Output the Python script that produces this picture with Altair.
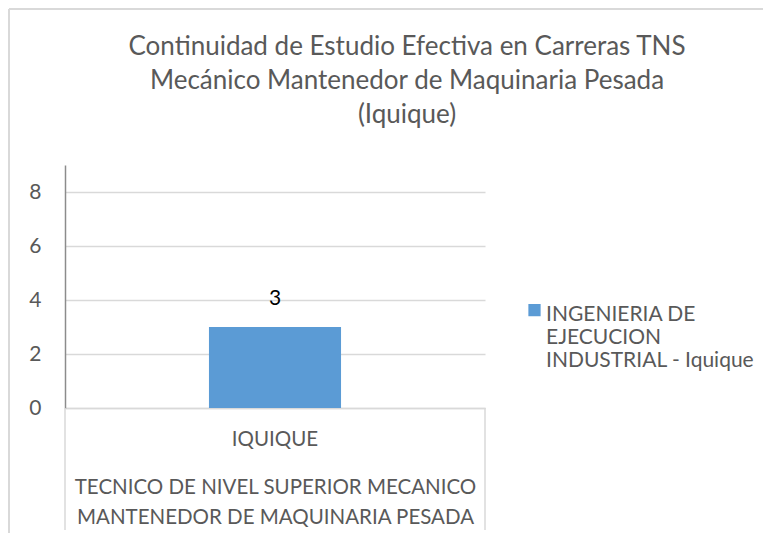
import altair as alt
import pandas as pd

categories = ["IQUIQUE"]
series = ["INGENIERIA  DE EJECUCION INDUSTRIAL - Iquique"]
values = [3]
group_label = ["TECNICO DE NIVEL SUPERIOR MECANICO", "MANTENEDOR DE MAQUINARIA PESADA"]
legend_lines = ["INGENIERIA  DE", "EJECUCION", "INDUSTRIAL - Iquique"]
title_lines = ["Continuidad de Estudio Efectiva en Carreras TNS",
               "Mecánico Mantenedor de Maquinaria Pesada",
               "(Iquique)"]
y_ticks = [0, 2, 4, 6, 8]

df = pd.DataFrame({"cat": categories, "serie": series, "val": values})

FONT = "Lato"
GRAY = "#595959"
W, H = 420, 243

legend_expr = "[" + ", ".join("'" + s + "'" for s in legend_lines) + "]"

x_enc = alt.X("cat:N", scale=alt.Scale(paddingInner=0.5, paddingOuter=0.545),
              axis=alt.Axis(title=group_label, labelAngle=0, labelFontSize=20.5,
                            labelColor=GRAY, labelFont=FONT, labelPadding=21,
                            titleFontSize=20.5, titleFont=FONT, titleColor=GRAY,
                            titleFontWeight="normal", titlePadding=28, titleLineHeight=30,
                            ticks=False, domainColor="#d9d9d9", domainWidth=1.5))
y_enc = alt.Y("val:Q", scale=alt.Scale(domain=[0, 9], nice=False),
              axis=alt.Axis(values=y_ticks, title=None, labelFontSize=21, labelColor=GRAY,
                            labelFont=FONT, labelPadding=24, ticks=False,
                            domainColor="#8c8c8c", domainWidth=1.5,
                            gridColor="#d9d9d9", gridWidth=1.5))

bars = alt.Chart(df).mark_bar(color="#5b9bd5").encode(
    x=x_enc, y=y_enc,
    color=alt.Color("serie:N", scale=alt.Scale(range=["#5b9bd5"]),
                    legend=alt.Legend(title=None, orient="none", legendX=459, legendY=128,
                                      symbolType="M-1,0.08H1V2.08H-1Z", symbolSize=150,
                                      symbolStrokeWidth=0,
                                      labelFontSize=21, labelFont=FONT, labelColor=GRAY,
                                      labelExpr=legend_expr,
                                      labelBaseline="top", labelOffset=1, labelLimit=300))
)
labels = alt.Chart(df).mark_text(dy=-28, fontSize=21, font=FONT, color="#000000").encode(
    x="cat:N", y="val:Q", text="val:Q")

left_rule = alt.Chart(df).mark_rule(color="#d9d9d9", strokeWidth=1.5).encode(
    x=alt.value(0), y=alt.value(H), y2=alt.value(H + 122))
right_rule = alt.Chart(df).mark_rule(color="#d9d9d9", strokeWidth=1.5).encode(
    x=alt.value(W), y=alt.value(H), y2=alt.value(H + 122))
top_border = alt.Chart(df).mark_rule(color="#d9d9d9", strokeWidth=2).encode(
    x=alt.value(-56), x2=alt.value(800), y=alt.value(-156))
left_border = alt.Chart(df).mark_rule(color="#d9d9d9", strokeWidth=2).encode(
    x=alt.value(-56), y=alt.value(-156), y2=alt.value(400))

chart = alt.layer(bars, labels, left_rule, right_rule, top_border, left_border).properties(
    width=W, height=H,
    padding={"left": 57, "top": 157, "right": 278, "bottom": 125},
    autosize=alt.AutoSizeParams(type="none"),
    title=alt.TitleParams(text=title_lines, fontSize=26, font=FONT, color=GRAY,
                          fontWeight="normal", lineHeight=34, anchor="middle",
                          baseline="top", dx=132, offset=-120),
).configure_view(stroke=None)

chart.save("out.html", embed_options={"renderer": "svg", "actions": False})
